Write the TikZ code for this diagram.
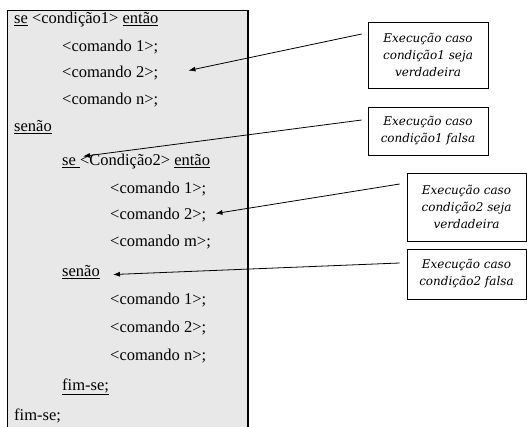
\documentclass[tikz,border=0pt]{standalone}
\usepackage{fontspec}
\setmainfont{Liberation Serif}
\newfontfamily\notefont{DejaVu Serif}
\usetikzlibrary{arrows.meta}

\begin{document}
\begin{tikzpicture}[x=1pt,y=-1pt,
  line/.style={anchor=base west,inner sep=0pt,font=\fontsize{16.5}{20}\selectfont},
  note/.style={draw,line width=0.6pt,align=center,inner sep=2pt,
    font=\notefont\itshape\fontsize{12}{17}\selectfont},
  arr/.style={-{Latex[length=7pt,width=5pt]},line width=0.8pt}]
\useasboundingbox (0,0) rectangle (527,427);
\clip (0,0) rectangle (527,427);
\fill[white] (0,0) rectangle (527,427);
\fill[gray!18] (7,10) rectangle (248,440);
\draw[line width=0.8pt] (7,440) -- (7,10) -- (248,10);
\draw[line width=1.6pt] (248,10) -- (248,440);
% pseudocode
\node[line] (se1) at (14,24) {\underline{se} <condição1> \underline{então}};
\node[line] (c11) at (62,52) {<comando 1>;};
\node[line] (c12) at (62,78) {<comando 2>;};
\node[line] (c1n) at (62,105) {<comando n>;};
\node[line] (sn1) at (14,132) {\underline{senão}};
\node[line] (se2) at (62,166) {\underline{se }<Condição2> \underline{então}};
\node[line] (c21) at (110,194) {<comando 1>;};
\node[line] (c22) at (110,220) {<comando 2>;};
\node[line] (c2m) at (110,247) {<comando m>;};
\node[line] (sn2) at (62,277) {\underline{senão}};
\node[line] (c31) at (110,305) {<comando 1>;};
\node[line] (c32) at (110,332) {<comando 2>;};
\node[line] (c3n) at (110,360) {<comando n>;};
\node[line] (fs2) at (62,390) {\underline{fim-se;}};
\node[line] (fs1) at (14,420) {fim-se;};
% notes
\node[note,minimum width=120pt,minimum height=66pt] (b1) at (428,55) {Execução caso\\condição1 seja\\verdadeira};
\node[note,minimum width=120pt,minimum height=48pt] (b2) at (428,131) {Execução caso\\condição1 falsa};
\node[note,minimum width=119pt,minimum height=68pt] (b3) at (466.5,207) {Execução caso\\condição2 seja\\verdadeira};
\node[note,minimum width=119pt,minimum height=50pt] (b4) at (466.5,274) {Execução caso\\condição2 falsa};
% arrows
\draw[arr] ([xshift=-6pt,yshift=21pt]b1.west) -- ([xshift=30pt,yshift=3pt]c12.east);
\draw[arr] ([xshift=-6pt,yshift=11pt]b2.west) -- ([xshift=21pt,yshift=-2pt]se2.north west);
\draw[arr] ([xshift=-7pt,yshift=23pt]b3.west) -- ([xshift=9pt,yshift=2pt]c22.east);
\draw[arr] ([xshift=-7pt,yshift=11pt]b4.west) -- ([xshift=13pt,yshift=-2pt]sn2.east);
\end{tikzpicture}
\end{document}
